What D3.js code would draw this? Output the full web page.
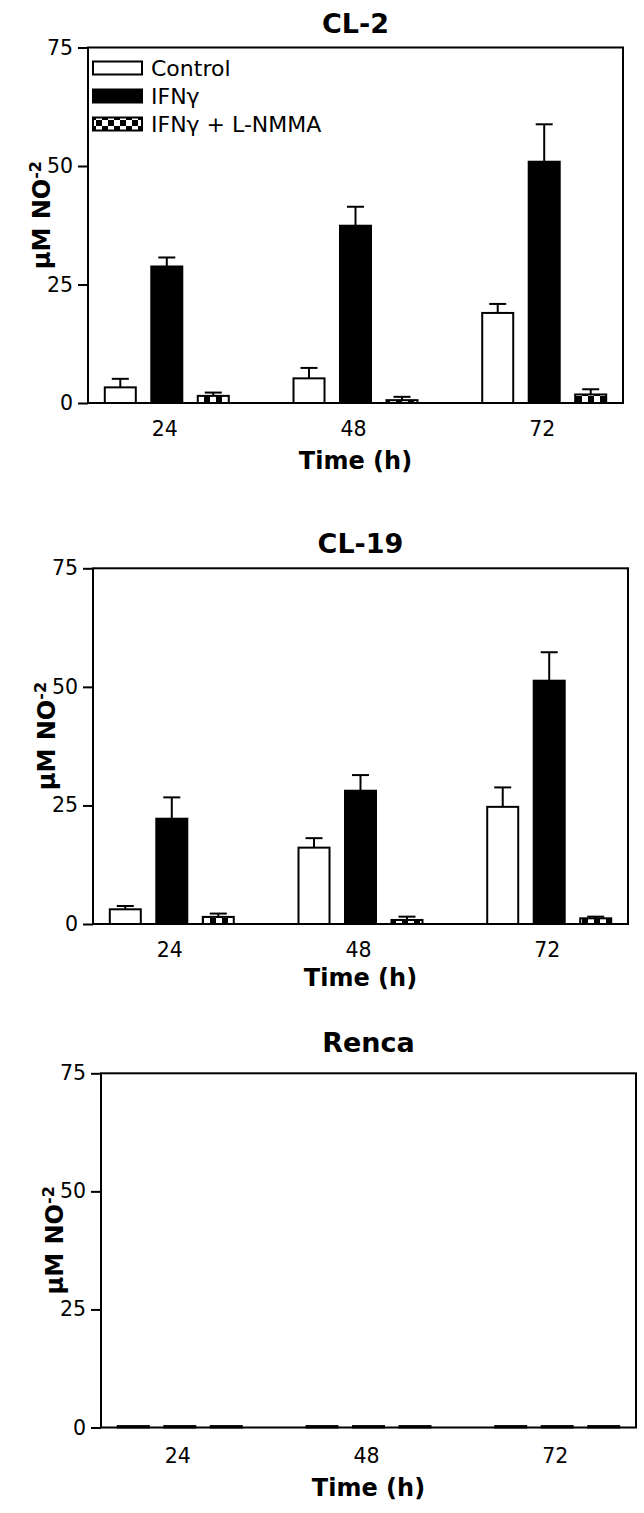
<!DOCTYPE html>
<html><head><meta charset="utf-8">
<script src="https://cdn.jsdelivr.net/npm/d3@7"></script>
<style>body{margin:0;background:#fff}</style>
</head><body>
<svg id="chart" width="644" height="1513"></svg>
<script>
// ---- data ----
const times = ["24", "48", "72"];
const seriesNames = ["Control", "IFNγ", "IFNγ + L-NMMA"];
const yTickValues = [0, 25, 50, 75];
const panelTitles = ["CL-2", "CL-19", "Renca"];

const cl2Control = [3.3, 5.2, 19.0];
const cl2Ifn = [28.8, 37.4, 50.9];
const cl2Nmma = [1.5, 0.6, 1.8];
const cl2ControlErr = [1.8, 2.2, 1.9];
const cl2IfnErr = [1.9, 4.0, 7.9];
const cl2NmmaErr = [0.7, 0.7, 1.1];

const cl19Control = [3.1, 16.1, 24.7];
const cl19Ifn = [22.2, 28.1, 51.3];
const cl19Nmma = [1.5, 0.85, 1.2];
const cl19ControlErr = [0.7, 2.0, 4.1];
const cl19IfnErr = [4.5, 3.3, 6.0];
const cl19NmmaErr = [0.7, 0.7, 0.35];

const rencaControl = [0.3, 0.3, 0.3];
const rencaIfn = [0.3, 0.3, 0.3];
const rencaNmma = [0.3, 0.3, 0.3];
const rencaControlErr = [0, 0, 0];
const rencaIfnErr = [0, 0, 0];
const rencaNmmaErr = [0, 0, 0];

// ---- layout ----
const panelLeft = [88, 93, 101];
const panelTop = [47.5, 568.3, 1073.3];
const panelBottom = [403, 924, 1427.5];
const titleY = [33, 553, 1052];
const xTitleOffset = [66, 62, 68];
const tickLabelOffset = [33, 33, 35];
const plotWidth = 535;

const panels = [
  {vals: [cl2Control, cl2Ifn, cl2Nmma], errs: [cl2ControlErr, cl2IfnErr, cl2NmmaErr]},
  {vals: [cl19Control, cl19Ifn, cl19Nmma], errs: [cl19ControlErr, cl19IfnErr, cl19NmmaErr]},
  {vals: [rencaControl, rencaIfn, rencaNmma], errs: [rencaControlErr, rencaIfnErr, rencaNmmaErr]}
];

const FONT = "'DejaVu Sans', Arial, sans-serif";
const svg = d3.select("#chart");

const defs = svg.append("defs");
const pat = defs.append("pattern").attr("id", "checker")
  .attr("patternUnits", "userSpaceOnUse").attr("width", 12).attr("height", 12);
pat.append("rect").attr("width", 12).attr("height", 12).attr("fill", "#fff");
pat.append("rect").attr("x", 0).attr("y", 0).attr("width", 6).attr("height", 6).attr("fill", "#000");
pat.append("rect").attr("x", 6).attr("y", 6).attr("width", 6).attr("height", 6).attr("fill", "#000");

const fills = ["#fff", "#000", "url(#checker)"];

const x0 = d3.scaleBand().domain(times).range([0, plotWidth]).paddingInner(0.343).paddingOuter(0.089);
const x1 = d3.scaleBand().domain(seriesNames).range([0, x0.bandwidth()]).paddingInner(0.333);

panels.forEach((p, pi) => {
  const left = panelLeft[pi], top = panelTop[pi], bottom = panelBottom[pi];
  const y = d3.scaleLinear().domain([0, 75]).range([bottom, top]);
  const g = svg.append("g");

  // title
  g.append("text").attr("x", left + plotWidth / 2).attr("y", titleY[pi])
    .attr("text-anchor", "middle").attr("font-family", FONT).attr("font-weight", "bold")
    .attr("font-size", 27).text(panelTitles[pi]);

  // bars
  seriesNames.forEach((s, si) => {
    times.forEach((t, ti) => {
      const v = p.vals[si][ti], e = p.errs[si][ti];
      const bx = left + x0(t) + x1(s);
      const bw = x1.bandwidth();
      if (e > 0) {
        const cx = bx + bw / 2;
        g.append("line").attr("x1", cx).attr("x2", cx).attr("y1", y(v)).attr("y2", y(v + e))
          .attr("stroke", "#000").attr("stroke-width", 2);
        g.append("line").attr("x1", cx - 8.5).attr("x2", cx + 8.5).attr("y1", y(v + e)).attr("y2", y(v + e))
          .attr("stroke", "#000").attr("stroke-width", 2);
      }
      g.append("rect").attr("x", bx).attr("y", y(v)).attr("width", bw)
        .attr("height", y(0) - y(v)).attr("fill", fills[si])
        .attr("stroke", "#000").attr("stroke-width", 2);
    });
  });

  // frame
  g.append("rect").attr("x", left).attr("y", top).attr("width", plotWidth).attr("height", bottom - top)
    .attr("fill", "none").attr("stroke", "#000").attr("stroke-width", 2);

  // y axis
  const ya = g.append("g").attr("transform", `translate(${left},0)`)
    .call(d3.axisLeft(y).tickValues(yTickValues).tickSize(10).tickPadding(5));
  ya.select(".domain").remove();
  ya.selectAll(".tick line").attr("stroke", "#000").attr("stroke-width", 2);
  ya.selectAll(".tick text").attr("font-family", FONT).attr("font-size", 20.5).attr("fill", "#000");

  // x axis labels
  const xa = g.append("g").attr("transform", `translate(${left},${bottom})`)
    .call(d3.axisBottom(x0).tickSize(0).tickPadding(0));
  xa.select(".domain").remove();
  xa.selectAll(".tick text").attr("font-family", FONT).attr("font-size", 20.5).attr("fill", "#000")
    .attr("dy", null).attr("y", tickLabelOffset[pi]).attr("dx", -2);

  // x title
  g.append("text").attr("x", left + plotWidth / 2).attr("y", bottom + xTitleOffset[pi])
    .attr("text-anchor", "middle").attr("font-family", FONT).attr("font-weight", "bold")
    .attr("font-size", 24).text("Time (h)");

  // y title
  const cy = (top + bottom) / 2;
  const yt = g.append("text").attr("transform", `translate(${left - 38.5},${cy}) rotate(-90)`)
    .attr("x", -44).attr("font-family", FONT).attr("font-weight", "bold").attr("font-size", 24);
  yt.append("tspan").text("μM NO");
  yt.append("tspan").attr("font-size", 16).attr("dy", -9).text("-2");

  // legend
  if (pi === 0) {
    const ly = [68, 96, 124];
    seriesNames.forEach((s, si) => {
      g.append("rect").attr("x", 93).attr("y", ly[si] - 6.5).attr("width", 49).attr("height", 13)
        .attr("fill", fills[si]).attr("stroke", "#000").attr("stroke-width", 2);
      g.append("text").attr("x", 151).attr("y", ly[si] + 7.5).attr("font-family", FONT)
        .attr("font-size", 22).text(s);
    });
  }
});
</script>
</body></html>
